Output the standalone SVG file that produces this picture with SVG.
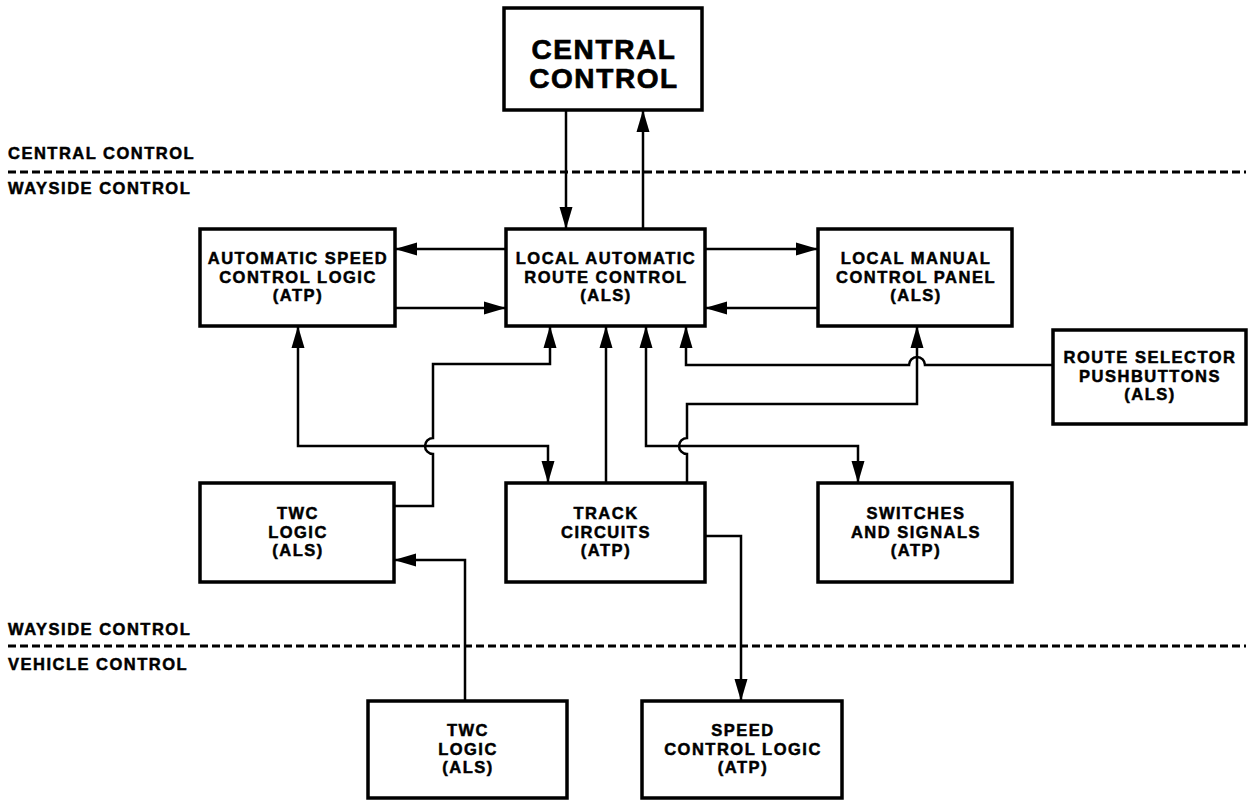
<svg xmlns="http://www.w3.org/2000/svg" width="1251" height="802" viewBox="0 0 1251 802">
<style>
.bg{fill:#fff}
.box{fill:#fff;stroke:#000;stroke-width:3.5}
.t{font-family:"Liberation Sans",Arial,sans-serif;font-weight:bold;font-size:16.5px;letter-spacing:1.5px;fill:#000;stroke:#000;stroke-width:0.5;text-anchor:middle}
.big{font-family:"Liberation Sans",Arial,sans-serif;font-weight:bold;font-size:28px;letter-spacing:1.6px;fill:#000;stroke:#000;stroke-width:0.7;text-anchor:middle}
.lbl{font-family:"Liberation Sans",Arial,sans-serif;font-weight:bold;font-size:16.5px;letter-spacing:1.5px;fill:#000;stroke:#000;stroke-width:0.5}
.dash{stroke:#000;stroke-width:3;stroke-dasharray:8 4;fill:none}
.c{fill:none;stroke:#000;stroke-width:2.5}
</style>
<defs>
<marker id="ah" markerUnits="userSpaceOnUse" markerWidth="22" markerHeight="14" refX="22" refY="7" orient="auto-start-reverse" viewBox="0 0 22 14">
<path d="M0,0.5 L22,7 L0,13.5 z" fill="#000"/>
</marker>
</defs>
<rect class="bg" x="0" y="0" width="1251" height="802"/>
<g id="zones">
<text class="lbl" x="8" y="159">CENTRAL CONTROL</text>
<line class="dash" x1="8" y1="172" x2="1246" y2="172"/>
<text class="lbl" x="8" y="194">WAYSIDE CONTROL</text>
<text class="lbl" x="8" y="635">WAYSIDE CONTROL</text>
<line class="dash" x1="8" y1="646" x2="1246" y2="646"/>
<text class="lbl" x="8" y="670">VEHICLE CONTROL</text>
</g>
<g id="connectors">
<path class="c" d="M566,110 V229" marker-end="url(#ah)"/>
<path class="c" d="M643,229 V110" marker-end="url(#ah)"/>
<path class="c" d="M506,249 H395" marker-end="url(#ah)"/>
<path class="c" d="M395,308 H506" marker-end="url(#ah)"/>
<path class="c" d="M705,249 H818" marker-end="url(#ah)"/>
<path class="c" d="M818,308 H705" marker-end="url(#ah)"/>
<path class="c" d="M298,326 V446 H548 V483" marker-start="url(#ah)" marker-end="url(#ah)"/>
<path class="c" d="M394,506 H433 V454 A8,8 0 0 1 433,438 V364 H550 V326" marker-end="url(#ah)"/>
<path class="c" d="M606,483 V326" marker-end="url(#ah)"/>
<path class="c" d="M646,326 V446 H858 V483" marker-start="url(#ah)" marker-end="url(#ah)"/>
<path class="c" d="M687,483 V454 A8,8 0 0 1 687,438 V404 H917 V326" marker-end="url(#ah)"/>
<path class="c" d="M1053,365 H925 A8,8 0 0 0 909,365 H686 V326" marker-end="url(#ah)"/>
<path class="c" d="M705,536 H741 V701" marker-end="url(#ah)"/>
<path class="c" d="M465,701 V560 H394" marker-end="url(#ah)"/>
</g>
<g id="central-control">
<rect class="box" x="504" y="8" width="198" height="102"/>
<text class="big" x="604" y="59">CENTRAL</text>
<text class="big" x="604" y="88">CONTROL</text>
</g>
<g id="auto-speed-control">
<rect class="box" x="200" y="229" width="195" height="97"/>
<text class="t" x="298" y="264">AUTOMATIC SPEED</text>
<text class="t" x="298" y="283">CONTROL LOGIC</text>
<text class="t" x="298" y="301">(ATP)</text>
</g>
<g id="local-auto-route">
<rect class="box" x="506" y="229" width="199" height="97"/>
<text class="t" x="606" y="264">LOCAL AUTOMATIC</text>
<text class="t" x="606" y="283">ROUTE CONTROL</text>
<text class="t" x="606" y="301">(ALS)</text>
</g>
<g id="local-manual-panel">
<rect class="box" x="818" y="229" width="194" height="97"/>
<text class="t" x="916" y="264">LOCAL MANUAL</text>
<text class="t" x="916" y="283">CONTROL PANEL</text>
<text class="t" x="916" y="301">(ALS)</text>
</g>
<g id="route-selector">
<rect class="box" x="1053" y="330" width="193" height="94"/>
<text class="t" x="1150" y="363">ROUTE SELECTOR</text>
<text class="t" x="1150" y="382">PUSHBUTTONS</text>
<text class="t" x="1150" y="400">(ALS)</text>
</g>
<g id="twc-wayside">
<rect class="box" x="200" y="483" width="194" height="99"/>
<text class="t" x="298" y="519">TWC</text>
<text class="t" x="298" y="538">LOGIC</text>
<text class="t" x="298" y="556">(ALS)</text>
</g>
<g id="track-circuits">
<rect class="box" x="506" y="483" width="199" height="99"/>
<text class="t" x="606" y="519">TRACK</text>
<text class="t" x="606" y="538">CIRCUITS</text>
<text class="t" x="606" y="556">(ATP)</text>
</g>
<g id="switches-signals">
<rect class="box" x="818" y="483" width="194" height="99"/>
<text class="t" x="916" y="519">SWITCHES</text>
<text class="t" x="916" y="538">AND SIGNALS</text>
<text class="t" x="916" y="556">(ATP)</text>
</g>
<g id="twc-vehicle">
<rect class="box" x="368" y="701" width="199" height="97"/>
<text class="t" x="468" y="736">TWC</text>
<text class="t" x="468" y="755">LOGIC</text>
<text class="t" x="468" y="773">(ALS)</text>
</g>
<g id="speed-control">
<rect class="box" x="642" y="701" width="200" height="97"/>
<text class="t" x="743" y="736">SPEED</text>
<text class="t" x="743" y="755">CONTROL LOGIC</text>
<text class="t" x="743" y="773">(ATP)</text>
</g>
</svg>
